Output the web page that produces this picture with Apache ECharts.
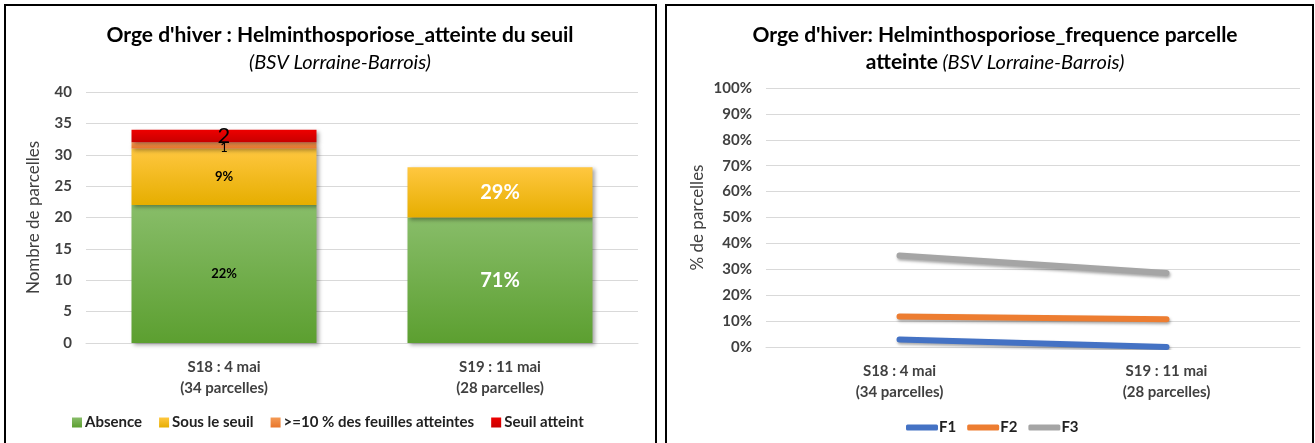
<!DOCTYPE html>
<html>
<head>
<meta charset="utf-8">
<script src="https://cdn.jsdelivr.net/npm/echarts@6/dist/echarts.min.js"></script>
<style>
  html, body { margin: 0; padding: 0; background: #fff; }
  #chart { width: 1315px; height: 443px; }
</style>
</head>
<body>
<div id="chart"></div>
<script>
// données
const categories = ['S18 : 4 mai\n(34 parcelles)', 'S19 : 11 mai\n(28 parcelles)']
const absence = [22, 20]
const sousSeuil = [9, 8]
const feuilles10 = [1, 0]
const seuilAtteint = [2, 0]
const absenceLabels = ['22%', '71%']
const sousSeuilLabels = ['9%', '29%']
const feuilles10Labels = ['1', '']
const seuilLabels = ['2', '']
const yTicksLeft = [0, 40, 5]

const f1 = [2.9, 0]
const f2 = [11.8, 10.7]
const f3 = [35.3, 28.6]

const FONT = 'Lato'
const TXT = '#404040'

const grad = (top, bottom) => new echarts.graphic.LinearGradient(0, 0, 0, 1, [
  { offset: 0, color: top },
  { offset: 1, color: bottom }
])

const barShadow = {
  shadowBlur: 4,
  shadowColor: 'rgba(0,0,0,0.35)',
  shadowOffsetX: 2,
  shadowOffsetY: 2
}

// série empilée avec étiquettes texte
const barSeries = (name, data, labels, top, bottom, labelStyle) => ({
  name,
  type: 'bar',
  stack: 'total',
  xAxisIndex: 0,
  yAxisIndex: 0,
  barWidth: 185,
  data,
  itemStyle: Object.assign({ color: grad(top, bottom) }, barShadow),
  label: Object.assign({
    show: true,
    position: 'inside',
    fontFamily: FONT,
    formatter: p => labels[p.dataIndex]
  }, labelStyle)
})

const lineSeries = (name, data, color) => ({
  name,
  type: 'line',
  xAxisIndex: 1,
  yAxisIndex: 1,
  data,
  symbol: 'none',
  color,
  lineStyle: {
    width: 6,
    color,
    cap: 'round',
    shadowBlur: 3,
    shadowColor: 'rgba(0,0,0,0.35)',
    shadowOffsetX: 1,
    shadowOffsetY: 2
  }
})

const axisLabelStyle = { color: TXT, fontFamily: FONT, fontSize: 15, fontWeight: 'bold' }

const chart = echarts.init(document.getElementById('chart'))

const option = {
  animation: false,
  textStyle: { fontFamily: FONT },
  graphic: [
    { type: 'rect', shape: { x: 5, y: 5, width: 651, height: 450 }, style: { fill: 'none', stroke: '#000', lineWidth: 2 }, silent: true },
    { type: 'rect', shape: { x: 666, y: 5, width: 647, height: 450 }, style: { fill: 'none', stroke: '#000', lineWidth: 2 }, silent: true }
  ],
  title: [
    {
      left: 335,
      top: 16,
      textAlign: 'center',
      text: '{b|Orge d\'hiver : Helminthosporiose_atteinte du seuil}\n{i|(BSV Lorraine-Barrois)}',
      textStyle: {
        rich: {
          b: { fontFamily: FONT, fontWeight: 'bold', fontSize: 21, color: '#000', lineHeight: 28 },
          i: { fontFamily: FONT, fontStyle: 'italic', fontWeight: 'normal', fontSize: 20, color: '#000', lineHeight: 28 }
        }
      }
    },
    {
      left: 990,
      top: 17,
      textAlign: 'center',
      text: '{b|Orge d\'hiver: Helminthosporiose_frequence parcelle}\n{b|atteinte} {i|(BSV Lorraine-Barrois)}',
      textStyle: {
        rich: {
          b: { fontFamily: FONT, fontWeight: 'bold', fontSize: 21, color: '#000', lineHeight: 27 },
          i: { fontFamily: FONT, fontStyle: 'italic', fontWeight: 'normal', fontSize: 20, color: '#000', lineHeight: 27 }
        }
      }
    }
  ],
  legend: [
    {
      left: 67,
      top: 410,
      itemWidth: 10,
      itemHeight: 10,
      itemGap: 17,
      icon: 'rect',
      textStyle: { fontFamily: FONT, fontSize: 15, fontWeight: 'bold', color: '#222', padding: [0, 0, 0, -2] },
      data: ['Absence', 'Sous le seuil', '>=10 % des feuilles atteintes', 'Seuil atteint']
    },
    {
      left: 901,
      top: 415,
      itemWidth: 32,
      itemHeight: 6,
      itemGap: 11,
      icon: 'roundRect',
      textStyle: { fontFamily: FONT, fontSize: 15, fontWeight: 'bold', color: '#222', padding: [0, 0, 0, -4] },
      data: ['F1', 'F2', 'F3']
    }
  ],
  grid: [
    { left: 86, right: 1315 - 638, top: 92, height: 251 },
    { left: 766, right: 15, top: 88, height: 259 }
  ],
  xAxis: [
    {
      type: 'category',
      gridIndex: 0,
      data: categories,
      axisTick: { show: false },
      axisLine: { lineStyle: { color: '#d9d9d9' } },
      axisLabel: Object.assign({ lineHeight: 21, margin: 14 }, axisLabelStyle)
    },
    {
      type: 'category',
      gridIndex: 1,
      data: categories,
      axisTick: { show: false },
      axisLine: { lineStyle: { color: '#d9d9d9' } },
      axisLabel: Object.assign({ lineHeight: 21, margin: 14 }, axisLabelStyle)
    }
  ],
  yAxis: [
    {
      type: 'value',
      gridIndex: 0,
      min: yTicksLeft[0],
      max: yTicksLeft[1],
      interval: yTicksLeft[2],
      name: 'Nombre de parcelles',
      nameLocation: 'middle',
      nameGap: 44,
      nameTextStyle: { color: TXT, fontFamily: FONT, fontSize: 17 },
      axisLabel: Object.assign({ margin: 14 }, axisLabelStyle),
      splitLine: { lineStyle: { color: '#d9d9d9' } }
    },
    {
      type: 'value',
      gridIndex: 1,
      min: 0,
      max: 100,
      interval: 10,
      name: '% de parcelles',
      nameLocation: 'middle',
      nameGap: 60,
      nameTextStyle: { color: TXT, fontFamily: FONT, fontSize: 17 },
      axisLabel: Object.assign({ margin: 14, formatter: '{value}%' }, axisLabelStyle),
      splitLine: { lineStyle: { color: '#d9d9d9' } }
    }
  ],
  series: [
    barSeries('Absence', absence, absenceLabels, '#88bd69', '#5c9f30',
      { fontSize: 13, fontWeight: 'bold', color: '#000' }),
    barSeries('Sous le seuil', sousSeuil, sousSeuilLabels, '#ffc740', '#e6ae00',
      { fontSize: 13, fontWeight: 'bold', color: '#000' }),
    barSeries('>=10 % des feuilles atteintes', feuilles10, feuilles10Labels, '#f49a55', '#e8752a',
      { fontSize: 13, color: '#000', offset: [0, 2] }),
    barSeries('Seuil atteint', seuilAtteint, seuilLabels, '#ee0000', '#c80000',
      { fontSize: 22, color: '#000' }),
    lineSeries('F1', f1, '#4472c4'),
    lineSeries('F2', f2, '#ed7d31'),
    lineSeries('F3', f3, '#a5a5a5')
  ]
}

// étiquettes blanches pour la 2e barre
option.series[0].data = absence.map((v, i) => i === 1
  ? { value: v, label: { color: '#fff', fontSize: 20, fontWeight: 'bold' } } : v)
option.series[1].data = sousSeuil.map((v, i) => i === 1
  ? { value: v, label: { color: '#fff', fontSize: 20, fontWeight: 'bold' } } : v)

chart.setOption(option)
window.addEventListener('resize', () => chart.resize())
</script>
</body>
</html>
